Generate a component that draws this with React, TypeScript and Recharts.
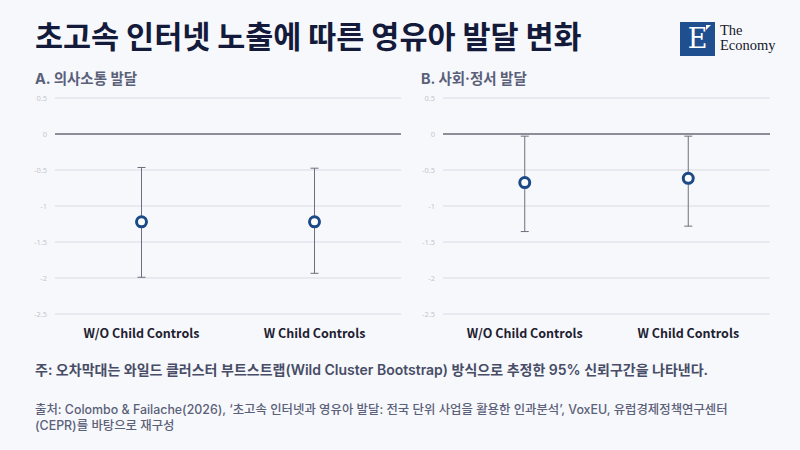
import { ComposedChart, Line, ErrorBar, XAxis, YAxis, CartesianGrid, ReferenceLine } from 'recharts'

const CATEGORIES = ['W/O Child Controls', 'W Child Controls']
const COMM_EST = [-1.22, -1.22]
const COMM_LOW = [-1.99, -1.935]
const COMM_HIGH = [-0.465, -0.475]
const SOCIAL_EST = [-0.675, -0.615]
const SOCIAL_LOW = [-1.355, -1.28]
const SOCIAL_HIGH = [-0.03, -0.03]
const Y_TICKS = [0.5, 0, -0.5, -1, -1.5, -2, -2.5]

const KR = '"Noto Sans CJK KR", "Noto Sans", sans-serif'
const INTER_KR = 'Inter, "Noto Sans CJK KR", sans-serif'
const BG = '#f7f8fc'

function buildRows(est: number[], low: number[], high: number[]) {
  return CATEGORIES.map((name, i) => ({
    name,
    est: est[i],
    err: [est[i] - low[i], high[i] - est[i]],
  }))
}

interface PanelProps {
  rows: { name: string; est: number; err: number[] }[]
  width: number
  left: number
}

function Panel({ rows, width, left }: PanelProps) {
  return (
    <div style={{ position: 'absolute', left, top: 88 }}>
      <ComposedChart width={width} height={260} data={rows} margin={{ top: 10, right: 1, left: 0, bottom: 0 }}>
        <CartesianGrid vertical={false} stroke="#d9dbe4" />
        <XAxis
          dataKey="name"
          scale="band"
          interval={0}
          height={34}
          tickLine={false}
          axisLine={false}
          tickMargin={9}
          tick={{ fontSize: 12.5, fontWeight: 700, fill: '#1e2030', fontFamily: KR }}
        />
        <YAxis
          domain={[-2.5, 0.5]}
          ticks={Y_TICKS}
          width={55}
          tickLine={false}
          axisLine={false}
          tick={{ fontSize: 7.5, fill: '#c3c6d0', fontFamily: '"Noto Sans", sans-serif' }}
          tickFormatter={v => String(v)}
        />
        <ReferenceLine y={0} stroke="#6e6f7e" strokeWidth={1.3} />
        <Line
          dataKey="est"
          stroke="none"
          isAnimationActive={false}
          dot={{ r: 5, stroke: '#1c4a86', strokeWidth: 3, fill: '#ffffff' }}
          activeDot={false}
        >
          <ErrorBar dataKey="err" direction="y" width={4} stroke="#6e6f7e" strokeWidth={1} isAnimationActive={false} />
        </Line>
      </ComposedChart>
    </div>
  )
}

export default function App() {
  const commRows = buildRows(COMM_EST, COMM_LOW, COMM_HIGH)
  const socialRows = buildRows(SOCIAL_EST, SOCIAL_LOW, SOCIAL_HIGH)

  return (
    <div style={{ position: 'absolute', left: 0, top: 0, width: 800, height: 450, background: BG, fontFamily: KR, overflow: 'hidden' }}>
      <div style={{ position: 'absolute', left: 35, top: 13, fontSize: 30.5, fontWeight: 700, color: '#141a3a', letterSpacing: 0 }}>
        초고속 인터넷 노출에 따른 영유아 발달 변화
      </div>

      {/* logo */}
      <div style={{ position: 'absolute', left: 680, top: 22, width: 35, height: 34, background: '#1f4f8f' }}>
        <div style={{ position: 'absolute', left: 0, top: 1, width: 35, textAlign: 'center', color: '#fff', fontFamily: '"DejaVu Serif", serif', fontSize: 27, lineHeight: '32px' }}>
          E
        </div>
        <div style={{ position: 'absolute', right: 4, top: 3, width: 0, height: 0, borderLeft: '5px solid #fff', borderBottom: '5px solid transparent' }} />
      </div>
      <div style={{ position: 'absolute', left: 720, top: 23, fontFamily: '"Liberation Serif", serif', fontSize: 14.5, lineHeight: '15px', color: '#16182a' }}>
        The<br />Economy
      </div>

      <div style={{ position: 'absolute', left: 35, top: 67, fontSize: 14.5, fontWeight: 700, color: '#5a6079', fontFamily: INTER_KR }}>A. 의사소통 발달</div>
      <div style={{ position: 'absolute', left: 421, top: 67, fontSize: 14.5, fontWeight: 700, color: '#5a6079', fontFamily: INTER_KR }}>B. 사회·정서 발달</div>

      <Panel rows={commRows} width={402} left={0} />
      <Panel rows={socialRows} width={383} left={388} />

      <div style={{ position: 'absolute', left: 35, top: 359, fontSize: 14, fontWeight: 600, color: '#474d66', fontFamily: INTER_KR }}>
        주: 오차막대는 와일드 클러스터 부트스트랩(Wild Cluster Bootstrap) 방식으로 추정한 95% 신뢰구간을 나타낸다.
      </div>
      <div style={{ position: 'absolute', left: 35, top: 402, width: 760, fontSize: 12.4, lineHeight: '16px', fontWeight: 500, color: '#5b6178', fontFamily: INTER_KR }}>
        출처: Colombo &amp; Failache(2026), ‘초고속 인터넷과 영유아 발달: 전국 단위 사업을 활용한 인과분석’, VoxEU, 유럽경제정책연구센터
        <br />
        (CEPR)를 바탕으로 재구성
      </div>
    </div>
  )
}
